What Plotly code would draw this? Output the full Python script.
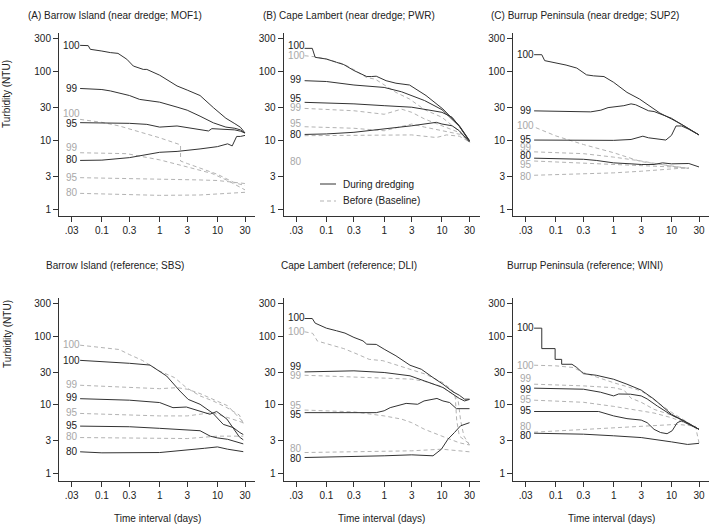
import math
import plotly.graph_objects as go

LEVELS = ["100", "99", "95", "80"]
X_TICKS = [0.03, 0.1, 0.3, 1, 3, 10, 30]
X_TICK_TEXT = [".03", "0.1", "0.3", "1", "3", "10", "30"]
Y_TICKS = [1, 3, 10, 30, 100, 300]
Y_TICK_TEXT = ["1", "3", "10", "30", "100", "300"]

TITLES = [
    "(A) Barrow Island (near dredge; MOF1)",
    "(B) Cape Lambert (near dredge; PWR)",
    "(C) Burrup Peninsula (near dredge; SUP2)",
    "Barrow Island (reference; SBS)",
    "Cape Lambert (reference; DLI)",
    "Burrup Peninsula (reference; WINI)",
]

# ---- Panel A: Barrow Island near dredge (MOF1) ----
A_DURING = {
    "100": [(0.042, 242), (0.058, 240), (0.063, 212), (0.093, 205), (0.1, 200), (0.14, 190), (0.19, 185),
            (0.27, 152), (0.35, 121), (0.52, 108), (0.6, 108), (1, 89), (1.3, 77), (2, 62), (3, 54),
            (5, 45), (8.5, 30), (14, 21), (20, 17.5), (25, 15.5), (30, 12.8)],
    "99": [(0.042, 57), (0.1, 55), (0.14, 52.5), (0.3, 45), (0.45, 39.5), (1, 36), (2, 30.5), (3, 27.5),
           (5, 22.5), (8.5, 18), (14, 15.6), (20, 15), (25, 14.2), (30, 12.8)],
    "95": [(0.042, 18.1), (0.2, 17.9), (0.3, 17.7), (0.6, 17.1), (1, 15.6), (2, 16.2), (3, 15.3), (5, 14.5),
           (7, 13.7), (8, 14.8), (15, 14.6), (20, 14.2), (25, 13.6), (30, 12.8)],
    "80": [(0.042, 5.1), (0.1, 5.15), (0.3, 5.6), (0.5, 6.1), (1, 6.7), (2, 6.9), (3, 7.1), (5, 7.5),
           (10, 8.1), (15, 8.9), (18, 8.3), (20, 10.2), (21.5, 11.4), (25, 11.4), (30, 11.8)],
}
A_BEFORE = {
    "100": [(0.042, 20.2), (0.1, 18.3), (0.2, 16.2), (0.5, 12.9), (1, 10.9), (2.3, 8.6), (2.3, 5.0),
            (3, 4.6), (5, 3.9), (10, 3.2), (20, 2.4), (30, 2.2)],
    "99": [(0.042, 6.6), (0.27, 6.4), (0.5, 5.8), (1, 5.2), (3, 4.1), (8, 3.3), (15, 2.6), (30, 1.9)],
    "95": [(0.042, 2.86), (1, 2.75), (5, 2.65), (10, 2.6), (20, 2.45), (30, 2.35)],
    "80": [(0.042, 1.69), (0.3, 1.62), (1, 1.58), (5, 1.6), (10, 1.65), (20, 1.72), (30, 1.75)],
}
A_LAB_DURING = [242, 57, 17.5, 5.2]
A_LAB_BEFORE = [24.4, 7.8, 2.92, 1.73]

# ---- Panel B: Cape Lambert near dredge (PWR) ----
B_DURING = {
    "100": [(0.042, 219), (0.057, 219), (0.064, 162), (0.1, 153), (0.15, 137), (0.2, 127), (0.3, 104),
            (0.5, 85), (0.6, 85), (0.73, 86), (1.08, 74), (1.6, 68), (2.75, 64), (5.3, 45), (10.4, 28.6),
            (20, 16.4), (30, 9.9)],
    "99": [(0.042, 74), (0.1, 72), (0.3, 64), (1, 59), (2, 51), (3, 45), (5, 38), (10, 28), (20, 16), (30, 9.9)],
    "95": [(0.042, 35.8), (0.1, 35), (0.3, 34), (1, 32), (3, 30.4), (7, 27), (10, 25.6), (15, 21.7),
           (20, 16), (30, 9.6)],
    "80": [(0.042, 12.2), (0.1, 12.4), (0.3, 13.1), (1, 14.6), (3, 16.3), (8, 18.3), (10, 17.3),
           (15, 16.3), (20, 13.8), (30, 9.4)],
}
B_BEFORE = {
    "100": [(0.042, 171), (0.064, 165), (0.1, 153), (0.2, 129), (0.3, 107), (0.5, 82), (0.7, 78), (1, 64),
            (1.6, 50), (2.75, 40), (5, 28), (10, 21.7), (20, 13.5), (30, 9.9)],
    "99": [(0.042, 29.2), (0.3, 27), (1, 24), (2, 28.5), (3, 25.6), (5, 20.5), (10, 16.3), (20, 13), (30, 9.9)],
    "95": [(0.042, 15.8), (0.3, 15), (1, 13.8), (3, 17.3), (5, 15.6), (10, 13.8), (20, 12.3), (30, 9.9)],
    "80": [(0.042, 11.7), (1, 11.8), (3, 12), (8, 11), (12, 12), (20, 11.5), (30, 9.5)],
}
B_LAB_DURING = [244, 78, 41, 12]
B_LAB_BEFORE = [175, 30, 17.7, 5.0]

# ---- Panel C: Burrup Peninsula near dredge (SUP2) ----
C_DURING = {
    "100": [(0.042, 177), (0.057, 177), (0.064, 145), (0.1, 135), (0.15, 125), (0.23, 113), (0.34, 90),
            (0.45, 87), (0.68, 85), (1, 70), (1.7, 50), (2.8, 40), (6.3, 25), (10, 20.5), (15, 17.1), (30, 12)],
    "99": [(0.042, 26.9), (0.4, 26), (0.6, 27.5), (0.8, 30), (1.5, 32), (2, 34), (2.4, 33), (3, 30), (4, 27),
           (5, 26.3), (10, 21), (15, 17), (30, 12)],
    "95": [(0.042, 10.1), (0.3, 10.1), (1, 10), (2, 10.3), (3.2, 11.5), (4, 10.9), (8, 10.1), (10, 11.8),
           (12, 16.2), (15, 16.2), (20, 14.5), (30, 12)],
    "80": [(0.042, 5.5), (0.3, 5.3), (0.5, 5.1), (1, 4.7), (2, 4.55), (3, 4.45), (5, 4.45), (7, 4.7),
           (10, 4.55), (20, 4.6), (30, 4.1)],
}
C_BEFORE = {
    "100": [(0.045, 15.3), (0.1, 11.6), (0.3, 8.7), (1, 6.6), (3, 4.9), (10, 4.2), (20, 3.9)],
    "99": [(0.042, 6.8), (0.3, 6.4), (1, 5.7), (3, 5.0), (10, 4.2), (20, 3.9)],
    "95": [(0.042, 5.0), (1, 4.45), (3, 4.3), (10, 4.1), (20, 3.9)],
    "80": [(0.042, 3.1), (1, 3.36), (3, 3.55), (10, 3.85), (20, 4.0)],
}
C_LAB_DURING = [181, 27.5, 10.3, 6.0]
C_LAB_BEFORE = [16.2, 7.8, 4.45, 2.94]

# ---- Panel D: Barrow Island reference (SBS) ----
D_DURING = {
    "100": [(0.042, 44.5), (0.1, 42.7), (0.3, 40.3), (0.68, 38), (1.32, 26.3), (2.24, 15.9), (3.12, 12),
            (5, 10.2), (8.4, 7.5), (12.6, 5.2), (18.7, 4.67), (24.4, 3.95), (28, 3.7)],
    "99": [(0.042, 12.3), (0.1, 12.0), (0.3, 11.7), (1, 10.8), (1.7, 9.1), (2.9, 9.3), (5, 8.1), (7.4, 7.3),
           (9.7, 8.0), (14.6, 6.2), (24, 3.4), (28, 3.1)],
    "95": [(0.042, 4.9), (0.3, 4.8), (1, 4.55), (3, 4.27), (5, 4.2), (7.5, 3.5), (10, 3.3), (15, 3.15), (28, 2.7)],
    "80": [(0.042, 2.07), (0.1, 2.0), (1, 2.02), (3, 2.18), (6, 2.33), (10, 2.44), (15, 2.26), (28, 2.08)],
}
D_BEFORE = {
    "100": [(0.042, 74), (0.1, 69), (0.2, 64), (0.3, 54), (0.5, 44.5), (1, 31), (1.8, 25), (2.9, 17.8),
            (5, 13.5), (8.4, 11.4), (14.6, 9.1), (24, 7.1), (28, 5.3)],
    "99": [(0.042, 19.3), (0.3, 18.2), (1, 17.2), (2, 17.8), (3, 16.9), (5, 14.6), (10, 11.4), (15, 9.7), (28, 5.6)],
    "95": [(0.042, 7.5), (1, 6.9), (3, 6.9), (5, 7.3), (8, 7.7), (10, 7.3), (15, 6.5), (28, 5.5)],
    "80": [(0.042, 3.34), (1, 3.27), (3, 3.23), (10, 3.5), (28, 3.5)],
}
D_LAB_DURING = [44.5, 12.6, 5.05, 2.09]
D_LAB_BEFORE = [76, 19.9, 7.7, 3.45]

# ---- Panel E: Cape Lambert reference (DLI) ----
E_DURING = {
    "100": [(0.042, 181), (0.057, 181), (0.064, 155), (0.1, 131), (0.15, 120), (0.21, 111), (0.3, 96),
            (0.43, 85.5), (0.5, 76.5), (0.73, 76), (1, 64.7), (1.6, 51.8), (2.8, 37.8), (4.4, 33), (7, 25),
            (10.4, 20), (15.5, 15.5), (20, 13.8), (24.6, 12.1), (30, 12.1)],
    "99": [(0.042, 30.2), (0.1, 31), (0.3, 31.3), (1, 29.6), (2.8, 26.5), (5, 22.3), (10.4, 17.9),
           (15.5, 14.3), (20, 12.4), (24.6, 11.4), (30, 12)],
    "95": [(0.042, 7.7), (0.73, 7.7), (1, 8.2), (1.27, 9.1), (2.4, 10.5), (3.8, 10.2), (4.9, 11.4),
           (6.4, 11.8), (8.2, 12.4), (10.4, 11.4), (13.6, 10.8), (17.8, 8.8), (30, 8.8)],
    "80": [(0.042, 1.71), (0.3, 1.75), (1, 1.81), (3, 1.87), (7, 1.81), (9.8, 2.26), (12.7, 3.16),
           (16.5, 3.96), (21, 4.95), (30, 5.5)],
}
E_BEFORE = {
    "100": [(0.042, 116), (0.058, 110), (0.07, 85), (0.11, 76.5), (0.2, 66), (0.34, 55), (0.55, 46),
            (0.95, 44), (1.6, 38), (2.8, 33), (5.2, 28), (10.4, 21), (15.5, 16), (17, 13), (18, 6),
            (20, 3.5), (30, 2.7)],
    "99": [(0.042, 27), (0.3, 25.8), (1, 24.5), (3, 23.7), (5, 22), (10, 18.5), (15, 14.5), (19, 12),
           (21, 6), (24, 3.5), (30, 2.6)],
    "95": [(0.042, 8.4), (0.3, 7.9), (1, 6.9), (2, 6.2), (3, 5.5), (5, 4.4), (10, 3.5), (20, 2.8), (30, 2.6)],
    "80": [(0.042, 2.02), (1, 2.07), (3, 2.14), (10, 2.26), (30, 2.07)],
}
E_LAB_DURING = [187, 36, 7.3, 1.67]
E_LAB_BEFORE = [116, 27, 9.9, 2.31]

# ---- Panel F: Burrup Peninsula reference (WINI) ----
F_DURING = {
    "100": [(0.042, 131), (0.057, 131), (0.057, 66), (0.097, 66), (0.097, 46), (0.126, 46), (0.126, 39),
            (0.19, 39), (0.23, 35), (0.3, 28.5), (0.5, 27), (1, 23.6), (1.7, 20), (3, 16.4), (5, 12.1),
            (8.4, 8.2), (10, 7.3), (16.4, 5.85), (30, 4.4)],
    "99": [(0.042, 17.5), (0.3, 16.9), (0.59, 15.3), (1, 13.5), (1.22, 14.4), (1.95, 14.3), (3, 13.5),
           (3.8, 12.2), (5.7, 9.6), (8.4, 7.7), (10, 7.1), (16.4, 5.85), (30, 4.4)],
    "95": [(0.042, 8.0), (0.55, 8.0), (1, 6.9), (1.7, 6.3), (3, 6.0), (3.8, 5.5), (5, 4.4), (6.5, 3.95),
           (8.4, 3.8), (10.3, 4.2), (12.6, 5.5), (15, 5.85), (30, 4.4)],
    "80": [(0.042, 3.86), (0.3, 3.74), (1, 3.54), (3, 3.34), (10, 2.89), (19, 2.65), (30, 2.75)],
}
F_BEFORE = {
    "100": [(0.042, 37.8), (0.1, 37), (0.2, 35), (0.3, 29.5), (1, 21), (3, 16), (10, 7.8), (30, 4.4)],
    "99": [(0.042, 20), (0.3, 18.9), (1, 17.8), (1.5, 16.5), (2, 12.5), (3, 10.9), (5, 8.6), (10, 7.1), (30, 4.4)],
    "95": [(0.042, 11.7), (0.3, 10.9), (1, 9.5), (3, 8.2), (5, 7.6), (10, 6.5), (20, 5.2), (30, 4.4)],
    "80": [(0.042, 4.0), (1, 4.65), (3, 4.9), (12.6, 5.2), (20, 5.0), (26, 4.9), (30, 2.8)],
}
F_LAB_DURING = [134, 16.9, 8.4, 3.54]
F_LAB_BEFORE = [37.8, 24.2, 12.1, 4.83]

PANELS = [
    (A_DURING, A_BEFORE, A_LAB_DURING, A_LAB_BEFORE),
    (B_DURING, B_BEFORE, B_LAB_DURING, B_LAB_BEFORE),
    (C_DURING, C_BEFORE, C_LAB_DURING, C_LAB_BEFORE),
    (D_DURING, D_BEFORE, D_LAB_DURING, D_LAB_BEFORE),
    (E_DURING, E_BEFORE, E_LAB_DURING, E_LAB_BEFORE),
    (F_DURING, F_BEFORE, F_LAB_DURING, F_LAB_BEFORE),
]

# ---------------- layout geometry (pixels) ----------------
W, H = 711, 525
COL_LEFT = [59, 283.5, 513]
COL_WIDTH = 196
ROW_TOP = [33, 297.5]
ROW_HEIGHT = 183
TITLE_X = [115, 349, 585]
TITLE_Y = [15, 265]
YTITLE_Y = [94, 334]
XTITLE_Y = 518

FONT = "Liberation Sans, Arial, Helvetica, sans-serif"
DARK = "#333333"
GRAY = "#b3b3b3"
LABEL_GRAY = "#a8a8a8"

fig = go.Figure()
annotations = []
layout_axes = {}

for i, (during, before, lab_d, lab_b) in enumerate(PANELS):
    n = i + 1
    xr = "x" if n == 1 else f"x{n}"
    yr = "y" if n == 1 else f"y{n}"
    row, col = divmod(i, 3)
    left = COL_LEFT[col]
    top = ROW_TOP[row]
    layout_axes["xaxis" if n == 1 else f"xaxis{n}"] = dict(
        domain=[left / W, (left + COL_WIDTH) / W], anchor=yr, type="log",
        range=[-1.742, 1.65], tickvals=X_TICKS, ticktext=X_TICK_TEXT,
        showline=True, linecolor=DARK, linewidth=1, ticks="outside", ticklen=5,
        tickcolor=DARK, showgrid=False, zeroline=False,
        tickfont=dict(size=10, color="#222", family=FONT),
    )
    layout_axes["yaxis" if n == 1 else f"yaxis{n}"] = dict(
        domain=[1 - (top + ROW_HEIGHT) / H, 1 - top / H], anchor=xr, type="log",
        range=[-0.102, 2.564], tickvals=Y_TICKS, ticktext=Y_TICK_TEXT,
        showline=True, linecolor=DARK, linewidth=1, ticks="outside", ticklen=5,
        tickcolor=DARK, showgrid=False, zeroline=False,
        tickfont=dict(size=10, color="#222", family=FONT),
    )
    # before (dashed grey) first, then during (solid black)
    for series, color, dash in ((before, GRAY, "4px,3px"), (during, DARK, "solid")):
        for lev in LEVELS:
            pts = series[lev]
            fig.add_trace(go.Scatter(
                x=[p[0] for p in pts], y=[p[1] for p in pts], mode="lines",
                line=dict(color=color, width=1, dash=dash),
                xaxis=xr, yaxis=yr, showlegend=False, hoverinfo="skip",
            ))
    for labs, color in ((lab_b, LABEL_GRAY), (lab_d, "#222")):
        for lev, v in zip(LEVELS, labs):
            annotations.append(dict(
                x=math.log10(0.03), y=math.log10(v), xref=xr, yref=yr, text=lev,
                showarrow=False, xanchor="center", yanchor="middle",
                font=dict(size=10, color=color, family=FONT),
            ))
    # panel title
    annotations.append(dict(
        x=TITLE_X[col] / W, y=1 - TITLE_Y[row] / H, xref="paper", yref="paper",
        text=TITLES[i], showarrow=False, xanchor="center", yanchor="middle",
        font=dict(size=10, color="#222", family=FONT),
    ))
    # y axis title for the first column
    if col == 0:
        annotations.append(dict(
            x=7 / W, y=1 - YTITLE_Y[row] / H, xref="paper", yref="paper",
            text="Turbidity (NTU)", textangle=-90, showarrow=False,
            xanchor="center", yanchor="middle",
            font=dict(size=10, color="#222", family=FONT),
        ))
    # x axis title for bottom row
    if row == 1:
        annotations.append(dict(
            x=(left + COL_WIDTH * 0.5) / W, y=1 - XTITLE_Y / H, xref="paper", yref="paper",
            text="Time interval (days)", showarrow=False, xanchor="center", yanchor="middle",
            font=dict(size=10, color="#222", family=FONT),
        ))

# legend (inside panel B)
LEG_X0, LEG_X1, LEG_TX = 320, 336, 341
LEG_Y = [184, 201]
LEG_TEXT = ["During dredging", "Before (Baseline)"]
shapes = []
for yy, txt, color, dash in zip(LEG_Y, LEG_TEXT, (DARK, GRAY), ("solid", "dash")):
    shapes.append(dict(type="line", xref="paper", yref="paper",
                       x0=LEG_X0 / W, x1=LEG_X1 / W, y0=1 - yy / H, y1=1 - yy / H,
                       line=dict(color=color, width=1, dash="4px,3px" if dash == "dash" else "solid")))
    annotations.append(dict(
        x=LEG_TX / W, y=1 - yy / H, xref="paper", yref="paper", text=txt,
        showarrow=False, xanchor="left", yanchor="middle",
        font=dict(size=10, color="#222", family=FONT),
    ))

fig.update_layout(
    width=W, height=H, margin=dict(l=0, r=0, t=0, b=0),
    paper_bgcolor="white", plot_bgcolor="white",
    annotations=annotations, shapes=shapes, showlegend=False,
    **layout_axes,
)

fig.write_html(
    "out.html",
    config={"displayModeBar": False},
    post_script="document.body.style.margin='0';document.body.style.overflow='hidden';",
)
